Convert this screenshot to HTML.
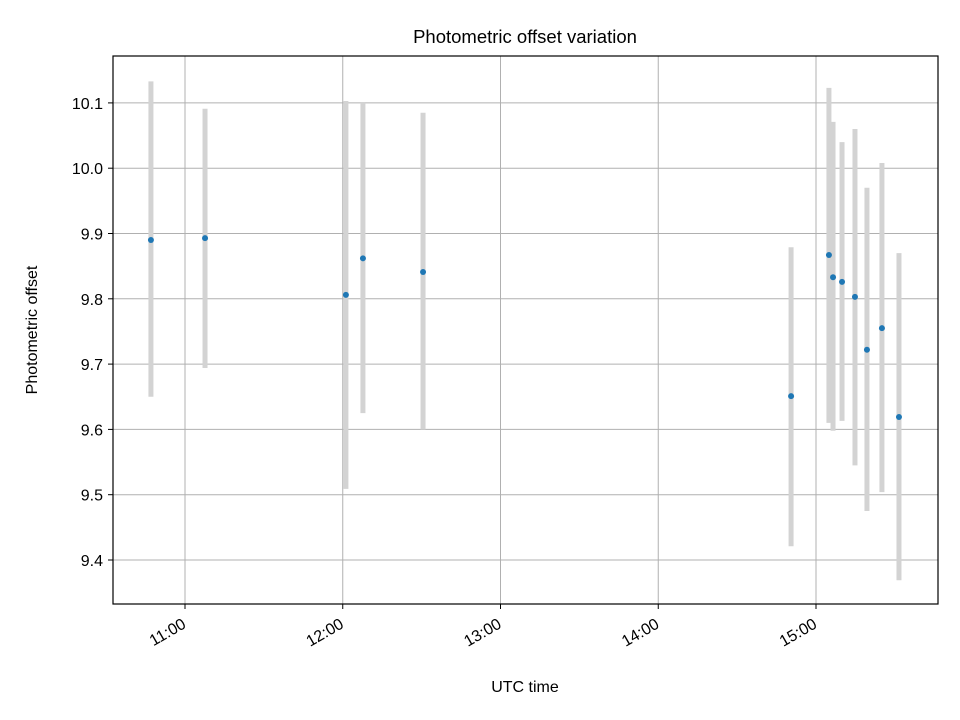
<!DOCTYPE html>
<html><head><meta charset="utf-8"><style>
body{margin:0;background:#fff;}
svg{display:block;font-family:"Liberation Sans","DejaVu Sans",sans-serif;}
</style></head><body>
<svg id="chart" width="960" height="720" viewBox="0 0 960 720">
<rect x="0" y="0" width="960" height="720" fill="#fff"/>
<text x="525" y="43" text-anchor="middle" font-size="18.5">Photometric offset variation</text>
<g id="grid"></g>
<g id="errs"></g>
<g id="pts"></g>
<rect x="113" y="56" width="825" height="548" fill="none" stroke="#000" stroke-width="1.2"/>
<g id="ticks"></g>
<text x="525" y="692" text-anchor="middle" font-size="16">UTC time</text>
<text transform="translate(37,330) rotate(-90)" text-anchor="middle" font-size="16">Photometric offset</text>
</svg>
<script>
const times=[10.784,11.127,12.02,12.128,12.509,14.842,15.082,15.108,15.165,15.247,15.323,15.418,15.526];
const offsets=[9.89,9.893,9.806,9.862,9.841,9.651,9.867,9.833,9.826,9.803,9.722,9.755,9.619];
const errHigh=[10.133,10.091,10.103,10.1,10.085,9.879,10.123,10.071,10.04,10.06,9.97,10.008,9.87];
const errLow=[9.65,9.694,9.509,9.625,9.6,9.421,9.61,9.598,9.613,9.545,9.475,9.504,9.369];
const xTicks=[11,12,13,14,15];
const xTickLabels=["11:00","12:00","13:00","14:00","15:00"];
const yTicks=[9.4,9.5,9.6,9.7,9.8,9.9,10.0,10.1];
const yTickLabels=["9.4","9.5","9.6","9.7","9.8","9.9","10.0","10.1"];
const NS="http://www.w3.org/2000/svg";
function X(h){return 185+(h-11)*157.75;}
function Y(v){return 560-(v-9.4)*653;}
function mk(tag,attrs,parent){const e=document.createElementNS(NS,tag);for(const k in attrs)e.setAttribute(k,attrs[k]);document.getElementById(parent).appendChild(e);return e;}
xTicks.forEach((t,i)=>{
 const x=X(t);
 let g=mk('line',{x1:x,x2:x,y1:56,y2:604,stroke:'#b0b0b0','stroke-width':1},'grid');
 
 
 let tk=mk('line',{x1:x,x2:x,y1:604,y2:609,stroke:'#000','stroke-width':1},'ticks');
 
 
 let tx=mk('text',{x:x+2,y:627,'text-anchor':'end','font-size':16,transform:`rotate(-30 ${x+2} 627)`},'ticks');
 tx.textContent=xTickLabels[i];
 
 
});
yTicks.forEach((t,i)=>{
 const y=Y(t);
 let g=mk('line',{x1:113,x2:938,y1:y,y2:y,stroke:'#b0b0b0','stroke-width':1},'grid');
 
 
 let tk=mk('line',{x1:108,x2:113,y1:y,y2:y,stroke:'#000','stroke-width':1},'ticks');
 
 
 let tx=mk('text',{x:103,y:y+6,'text-anchor':'end','font-size':16},'ticks');
 tx.textContent=yTickLabels[i];
 
 
});
times.forEach((t,i)=>{
 const x=X(t);
 let e=mk('line',{x1:x,x2:x,y1:Y(errHigh[i]),y2:Y(errLow[i]),stroke:'#d3d3d3','stroke-width':5},'errs');
 
 
 let p=mk('circle',{cx:x,cy:Y(offsets[i]),r:3,fill:'#1f77b4'},'pts');
 
 
});
</script>
</body></html>
